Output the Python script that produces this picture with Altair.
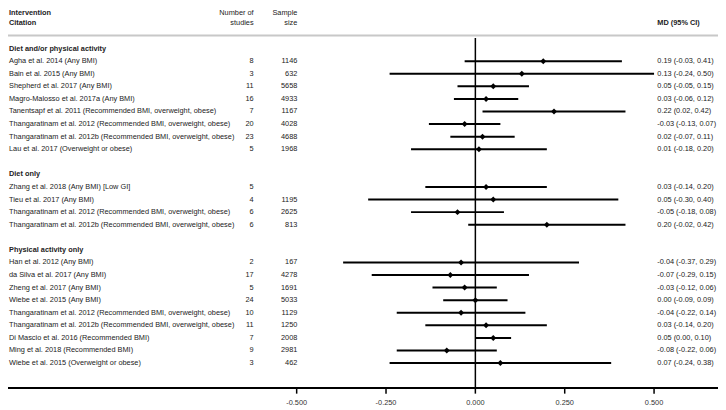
import altair as alt
import pandas as pd

FONT = "Liberation Sans"
TXT = "#222222"
FS = 7.4

section_names = ["Diet and/or physical activity", "Diet only", "Physical activity only"]
section_sizes = [8, 4, 9]

citations = [
    "Agha et al. 2014 (Any BMI)",
    "Bain  et al. 2015 (Any BMI)",
    "Shepherd et al. 2017 (Any BMI)",
    "Magro-Malosso et al. 2017a (Any BMI)",
    "Tanentsapf et al. 2011 (Recommended BMI, overweight, obese)",
    "Thangaratinam et al. 2012 (Recommended BMI, overweight, obese)",
    "Thangaratinam et al. 2012b (Recommended BMI, overweight, obese)",
    "Lau et al. 2017 (Overweight or obese)",
    "Zhang et al. 2018 (Any BMI) [Low GI]",
    "Tieu et al. 2017 (Any BMI)",
    "Thangaratinam et al. 2012 (Recommended BMI, overweight, obese)",
    "Thangaratinam et al. 2012b (Recommended BMI, overweight, obese)",
    "Han et al. 2012 (Any BMI)",
    "da Silva et al. 2017 (Any BMI)",
    "Zheng et al. 2017 (Any BMI)",
    "Wiebe et al. 2015 (Any BMI)",
    "Thangaratinam et al. 2012 (Recommended BMI, overweight, obese)",
    "Thangaratinam et al. 2012b (Recommended BMI, overweight, obese)",
    "Di Mascio et al. 2016 (Recommended BMI)",
    "Ming et al. 2018 (Recommended BMI)",
    "Wiebe et al. 2015 (Overweight or obese)",
]
n_studies = ["8", "3", "11", "16", "7", "20", "23", "5",
             "5", "4", "6", "6",
             "2", "17", "5", "24", "10", "11", "7", "9", "3"]
sample_size = ["1146", "632", "5658", "4933", "1167", "4028", "4688", "1968",
               "", "1195", "2625", "813",
               "167", "4278", "1691", "5033", "1129", "1250", "2008", "2981", "462"]
md = [0.19, 0.13, 0.05, 0.03, 0.22, -0.03, 0.02, 0.01,
      0.03, 0.05, -0.05, 0.20,
      -0.04, -0.07, -0.03, 0.00, -0.04, 0.03, 0.05, -0.08, 0.07]
ci_low = [-0.03, -0.24, -0.05, -0.06, 0.02, -0.13, -0.07, -0.18,
          -0.14, -0.30, -0.18, -0.02,
          -0.37, -0.29, -0.12, -0.09, -0.22, -0.14, 0.00, -0.22, -0.24]
ci_high = [0.41, 0.50, 0.15, 0.12, 0.42, 0.07, 0.11, 0.20,
           0.20, 0.40, 0.08, 0.42,
           0.29, 0.15, 0.06, 0.09, 0.14, 0.20, 0.10, 0.06, 0.38]

tick_values = [-0.5, -0.25, 0.0, 0.25, 0.5]
tick_labels = ["-0.500", "-0.250", "0.000", "0.250", "0.500"]

# ---- build table ----
records = []
row = 0
k = 0
for s_name, s_size in zip(section_names, section_sizes):
    records.append(dict(row=row, kind="section", citation=s_name, n="", size="",
                        ci="", md=None, lo=None, hi=None))
    row += 1
    for _ in range(s_size):
        records.append(dict(
            row=row, kind="study", citation=citations[k], n=n_studies[k],
            size=sample_size[k], md=md[k], lo=ci_low[k], hi=ci_high[k],
            ci=f"{md[k]:.2f} ({ci_low[k]:.2f}, {ci_high[k]:.2f})"))
        row += 1
        k += 1
    row += 1
df = pd.DataFrame(records)
studies = df[df.kind == "study"]
secs = df[df.kind == "section"]

W, H = 714, 400
X_MIN, X_MAX = -1.3077, 0.6789
ROW_TOP, ROW_BOTTOM = -3.059, 28.561
AXIS_ROW = 26.98
LABEL_ROW = 28.2
LINE_HALF = 0.075     # half thickness of horizontal lines, in row units (~1 px)
TICK_HALF = 0.0021    # half width of tick marks, in x units (~0.75 px)
xscale = alt.Scale(domain=[X_MIN, X_MAX], nice=False, zero=False)
yscale = alt.Scale(domain=[ROW_TOP, ROW_BOTTOM], nice=False, zero=False, reverse=True)


def X(f):
    return alt.X(f, type="quantitative", scale=xscale, axis=None)


def Y(f):
    return alt.Y(f, type="quantitative", scale=yscale, axis=None)


text_kw = dict(baseline="middle", fontSize=FS, font=FONT, color=TXT)

# separator under the header and the axis line, as thin rectangles
sep_df = pd.DataFrame({"a": [X_MIN], "b": [X_MAX],
                       "r1": [-1.04 - LINE_HALF], "r2": [-1.04 + LINE_HALF]})
sep = alt.Chart(sep_df).mark_rect(color="#c8c8c8").encode(
    x=X("a"), x2="b", y=Y("r1"), y2="r2")

axis_df = pd.DataFrame({"a": [X_MIN], "b": [X_MAX],
                        "r1": [AXIS_ROW - LINE_HALF], "r2": [AXIS_ROW + LINE_HALF]})
axis_line = alt.Chart(axis_df).mark_rect(color="black").encode(
    x=X("a"), x2="b", y=Y("r1"), y2="r2")

tick_df = pd.DataFrame({"v": tick_values, "lab": tick_labels,
                        "a": [v - TICK_HALF for v in tick_values],
                        "b": [v + TICK_HALF for v in tick_values],
                        "r1": [AXIS_ROW] * len(tick_values),
                        "r2": [AXIS_ROW + 0.45] * len(tick_values),
                        "rl": [LABEL_ROW] * len(tick_values)})
ticks = alt.Chart(tick_df).mark_rect(color="black").encode(
    x=X("a"), x2="b", y=Y("r1"), y2="r2")
tick_txt = alt.Chart(tick_df).mark_text(align="center", baseline="middle", fontSize=FS,
                                        font=FONT, color="#333333").encode(
    x=X("v"), y=Y("rl"), text="lab")

zero = alt.Chart(pd.DataFrame({"x": [0.0], "r1": [-0.84], "r2": [AXIS_ROW]})).mark_rule(
    color="black", strokeWidth=1.5).encode(x=X("x"), y=Y("r1"), y2="r2")

ci_lines = alt.Chart(studies).mark_rule(color="black", strokeWidth=2).encode(
    x=X("lo"), x2="hi", y=Y("row"))

points = alt.Chart(studies).mark_point(shape="diamond", filled=True, size=36,
                                       color="black", opacity=1).encode(
    x=X("md"), y=Y("row"))

cite_txt = alt.Chart(studies).mark_text(align="left", **text_kw).encode(
    x=alt.value(1), y=Y("row"), text="citation")
sec_txt = alt.Chart(secs).mark_text(align="left", fontWeight="bold", **text_kw).encode(
    x=alt.value(1), y=Y("row"), text="citation")
n_txt = alt.Chart(studies).mark_text(align="right", **text_kw).encode(
    x=alt.value(247), y=Y("row"), text="n")
size_txt = alt.Chart(studies).mark_text(align="right", **text_kw).encode(
    x=alt.value(291), y=Y("row"), text="size")
ci_txt = alt.Chart(studies).mark_text(align="left", **text_kw).encode(
    x=alt.value(653), y=Y("row"), text="ci")

hdr_left = alt.Chart(pd.DataFrame({"t": ["Intervention", "Citation"], "row": [-2.8, -2.06]})).mark_text(
    align="left", fontWeight="bold", **text_kw).encode(x=alt.value(1), y=Y("row"), text="t")
hdr_n = alt.Chart(pd.DataFrame({"t": ["Number of", "studies"], "row": [-2.8, -2.06]})).mark_text(
    align="right", **text_kw).encode(x=alt.value(247), y=Y("row"), text="t")
hdr_size = alt.Chart(pd.DataFrame({"t": ["Sample", "size"], "row": [-2.8, -2.06]})).mark_text(
    align="right", **text_kw).encode(x=alt.value(291), y=Y("row"), text="t")
hdr_ci = alt.Chart(pd.DataFrame({"t": ["MD (95% CI)"], "row": [-2.06]})).mark_text(
    align="left", fontWeight="bold", **text_kw).encode(x=alt.value(653), y=Y("row"), text="t")

chart = alt.layer(
    sep, axis_line, ticks, zero, tick_txt, ci_lines, points, cite_txt, sec_txt, n_txt,
    size_txt, ci_txt, hdr_left, hdr_n, hdr_size, hdr_ci
).properties(width=W, height=H, padding=0, background="white").configure_view(strokeWidth=0)

chart.save("out.html", embed_options={"renderer": "svg", "actions": False})
